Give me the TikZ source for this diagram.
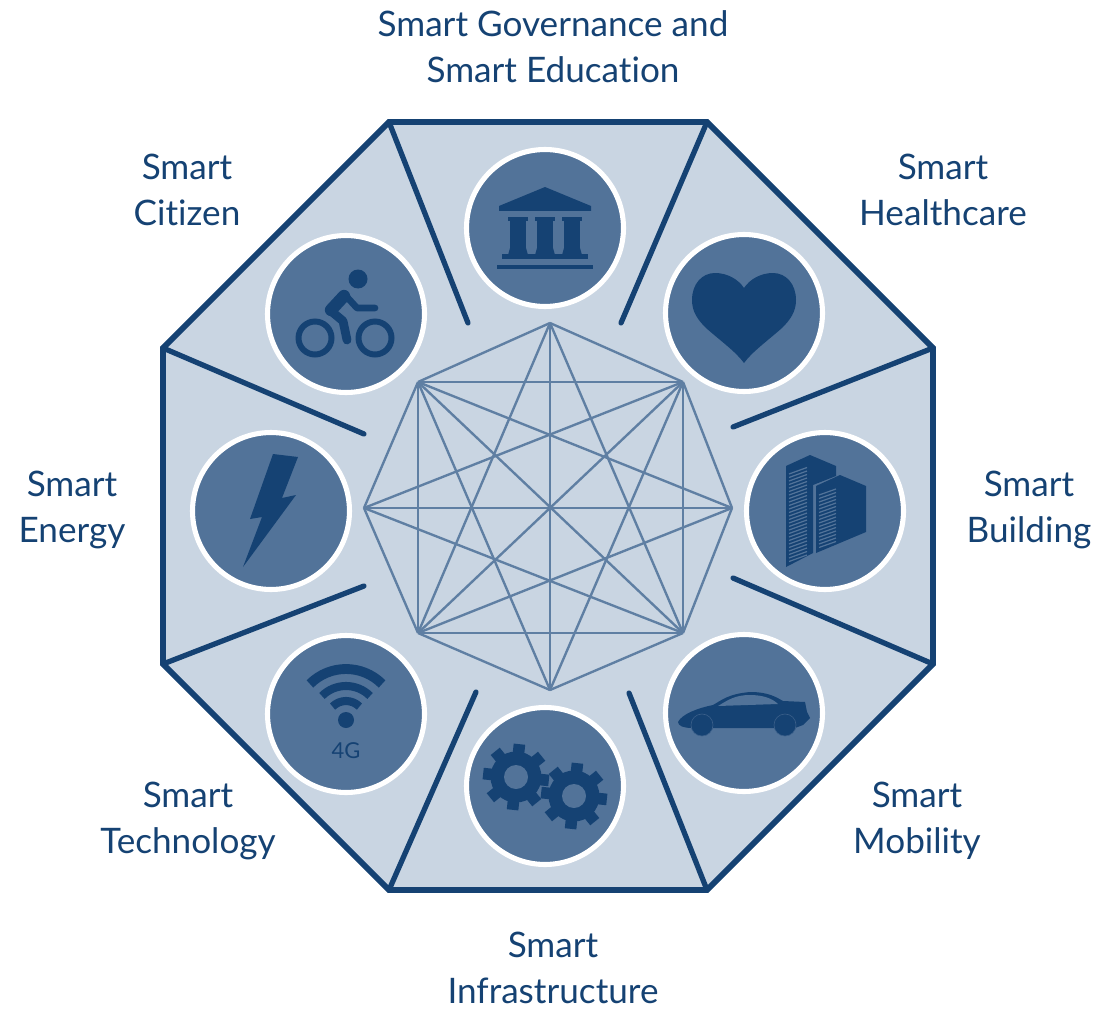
\documentclass[tikz,border=0pt]{standalone}
\usepackage{fontspec}
\setmainfont[Ligatures=NoCommon]{Lato}
\usetikzlibrary{calc}
\definecolor{navy}{HTML}{154273}
\definecolor{slate}{HTML}{527399}
\definecolor{wire}{HTML}{5F7FA3}
\definecolor{panel}{HTML}{C9D5E2}
\tikzset{
  tag/.style={text=navy,align=center,font=\fontsize{20}{26}\selectfont},
  badge/.style={circle,draw=white,line width=2.9pt,fill=slate,minimum size=3.14cm,inner sep=0pt},
  spoke/.style={draw=navy,line width=3pt,line cap=round},
  link/.style={draw=wire,line width=1.35pt},
  glyph/.style={fill=navy,draw=none}
}
\begin{document}
\begin{tikzpicture}[x=0.02cm,y=0.02cm,yscale=-1]
\useasboundingbox (0,0) rectangle (1095,1010);

\coordinate (o1) at (389,122);
\coordinate (o2) at (707,122);
\coordinate (o3) at (933,348);
\coordinate (o4) at (933,664);
\coordinate (o5) at (707,890);
\coordinate (o6) at (389,890);
\coordinate (o7) at (163,664);
\coordinate (o8) at (163,348);
\coordinate (s1) at (468,323);
\coordinate (s2) at (621,323);
\coordinate (s3) at (733,427);
\coordinate (s4) at (733,578);
\coordinate (s5) at (629,693);
\coordinate (s6) at (476,692);
\coordinate (s7) at (364,586);
\coordinate (s8) at (364,434);

\filldraw[fill=panel,draw=navy,line width=3.4pt] (o1)--(o2)--(o3)--(o4)--(o5)--(o6)--(o7)--(o8)--cycle;
\foreach \i in {1,...,8} \draw[spoke] (o\i)--(s\i);

\coordinate (h0) at (550,323);
\coordinate (h1) at (683,382);
\coordinate (h2) at (732,508);
\coordinate (h3) at (683,633);
\coordinate (h4) at (550,690);
\coordinate (h5) at (418,633);
\coordinate (h6) at (364,508);
\coordinate (h7) at (418,382);
\foreach \a/\b in {0/1,0/3,0/4,0/5,0/7,1/2,1/3,1/4,1/5,1/6,1/7,2/3,2/5,2/6,2/7,3/4,3/5,3/6,3/7,4/5,4/7,5/6,5/7,6/7}
  \draw[link] (h\a)--(h\b);

\node[badge] (civic) at (545,228) {};
\node[badge] (cyclist) at (346,314) {};
\node[badge] (heart) at (744,313) {};
\node[badge] (towers) at (825,511) {};
\node[badge] (car) at (744,713) {};
\node[badge] (gears) at (545,786) {};
\node[badge] (bolt) at (271,511) {};
\node[badge] (wifi) at (346,714) {};

\fill[glyph] (545,187)--(591,206)--(591,211)--(499,211)--(499,206)--cycle;
\foreach \x in {518,545,572} {
  \fill[glyph] (\x-10,217) rectangle (\x+10,221);
  \fill[glyph] (\x-8,221) rectangle (\x+8,250);
  \fill[glyph] (\x-8,248)--(\x+8,248)--(\x+10,255)--(\x-10,255)--cycle;
}
\fill[glyph] (502,254) rectangle (588,259);
\fill[glyph] (497,265) rectangle (593,269);

\fill[glyph] (358,279) circle (9.5);
\draw[navy,line width=3.4pt] (315,338) circle (16.5);
\draw[navy,line width=3.4pt] (375,338) circle (16.5);
\draw[navy,line width=7pt,line cap=round] (331,310)--(344,296);
\draw[navy,line width=5pt,line cap=round,line join=round] (331,311)--(343,321)--(347,340);
\draw[navy,line width=3.8pt,line cap=round,line join=round] (346,296)--(357,308)--(375,308);

\fill[glyph] (744,288) .. controls (738,279) and (727,273) .. (715,273)
  .. controls (702,273) and (692,284) .. (692,300)
  .. controls (692,312) and (698,320) .. (706,328)
  .. controls (722,342) and (736,352) .. (744,363)
  .. controls (752,352) and (766,342) .. (782,328)
  .. controls (790,320) and (796,312) .. (796,300)
  .. controls (796,284) and (786,273) .. (773,273)
  .. controls (761,273) and (750,279) .. (744,288) -- cycle;

\fill[glyph] (786,466)--(810,455)--(836,466)--(836,476)--(813,485)--(813,553)--(786,567)--cycle;
\fill[glyph] (816,486)--(840,475)--(866,486)--(866,532)--(816,553)--cycle;
\foreach \y in {474,477.5,...,562} \draw[slate,line width=0.7pt] (789,\y)--(807,\y-6.5);
\foreach \y in {495,498.5,...,550} \draw[slate,line width=0.7pt] (819,\y)--(836,\y-6);

\fill[glyph] (678,722) .. controls (682,714) and (698,708) .. (713,705)
  .. controls (722,700) and (728,694) .. (750,692)
  .. controls (768,692) and (776,697) .. (783,701)
  -- (805,702) -- (807,712) -- (810,718) -- (803,725) -- (795,728) -- (692,728)
  .. controls (684,728) and (678,726) .. (678,722) -- cycle;
\fill[slate] (718,706) .. controls (728,700) and (735,695) .. (750,695)
  .. controls (762,695) and (772,698) .. (778,704) -- cycle;
\filldraw[fill=navy,draw=slate!60!navy,line width=0.35pt] (702,725) circle (11);
\filldraw[fill=navy,draw=slate!60!navy,line width=0.35pt] (785,725) circle (11);

\foreach \gx/\gy in {516/777,574/796} {
  \fill[glyph] (\gx,\gy) circle (25.5);
  \foreach \t in {0,45,...,315}
    \fill[glyph,shift={(\gx,\gy)},rotate=\t+6] (20,-5.8) rectangle (33,5.8);
  \fill[slate] (\gx,\gy) circle (12);
}

\fill[glyph] (273,454)--(298,457)--(282,498)--(296,495)--(243,567)--(262,517)--(250,519)--cycle;

\fill[glyph] (346,720) circle (8);
\foreach \r/\w in {51/5.6,34/4.6,19/4.6}
  \draw[navy,line width=\w pt] (346,720) ++(-135:\r) arc (-135:-45:\r);
\node[text=navy,font=\fontsize{12.5}{13}\selectfont,inner sep=0pt] (fourg) at (346,751) {4G};

\node[tag] (governance) at (553,47) {Smart Governance and\\Smart Education};
\node[tag] (citizen) at (187,190) {Smart\\Citizen};
\node[tag] (healthcare) at (943,190) {Smart\\Healthcare};
\node[tag] (building) at (1029,510) {Smart\\Building};
\node[tag] (mobility) at (917,821) {Smart\\Mobility};
\node[tag] (infrastructure) at (553,968) {Smart\\Infrastructure};
\node[tag] (technology) at (188,821) {Smart\\Technology};
\node[tag] (energy) at (72,510) {Smart\\Energy};
\end{tikzpicture}
\end{document}
